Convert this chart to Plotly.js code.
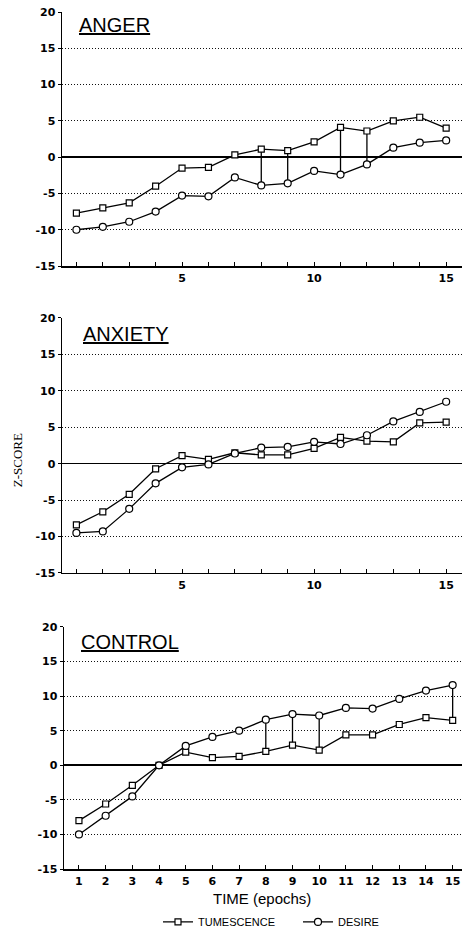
<!DOCTYPE html>
<html>
<head>
<meta charset="utf-8">
<script src="https://cdn.plot.ly/plotly-3.0.1.min.js"></script>
<style>html,body{margin:0;padding:0;background:#fff;}#chart{width:462px;height:931px;}</style>
</head>
<body>
<div id="chart"></div>
<script>
// ---- data ----
const epochs = [1,2,3,4,5,6,7,8,9,10,11,12,13,14,15];
const panelNames = ["ANGER", "ANXIETY", "CONTROL"];
const seriesNames = ["TUMESCENCE", "DESIRE"];

const angerTumescence   = [-7.7,-7.0,-6.3,-4.0,-1.5,-1.4, 0.3, 1.1, 0.9, 2.1, 4.1, 3.6, 5.0, 5.5, 4.0];
const angerDesire       = [-10.0,-9.6,-8.9,-7.5,-5.3,-5.4,-2.8,-3.9,-3.6,-1.9,-2.4,-1.0, 1.3, 2.0, 2.3];
const anxietyTumescence = [-8.4,-6.6,-4.2,-0.7, 1.1, 0.6, 1.5, 1.2, 1.2, 2.1, 3.6, 3.1, 3.0, 5.6, 5.7];
const anxietyDesire     = [-9.5,-9.3,-6.2,-2.7,-0.5,-0.1, 1.4, 2.2, 2.3, 3.0, 2.7, 3.9, 5.8, 7.1, 8.5];
const controlTumescence = [-8.0,-5.6,-2.9, 0.0, 1.9, 1.1, 1.3, 2.0, 2.9, 2.2, 4.4, 4.4, 5.9, 6.9, 6.5];
const controlDesire     = [-10.0,-7.3,-4.5, 0.0, 2.8, 4.1, 5.0, 6.6, 7.4, 7.2, 8.3, 8.2, 9.6,10.8,11.6];

// epochs where the two series are joined by a vertical line
const angerLinks   = [8, 9, 11, 12];
const anxietyLinks = [];
const controlLinks = [8, 9, 10, 15];

const yTicks = [-15,-10,-5,0,5,10,15,20];
const yTickLabels = ["-15","-10","-5","0","5","10","15","20"];
const xTickLabelsSparse = ["","","","","5","","","","","10","","","","","15"];
const xTickLabelsFull = ["1","2","3","4","5","6","7","8","9","10","11","12","13","14","15"];

// ---- build ----
const panels = [
  {tum: angerTumescence,   des: angerDesire,   links: angerLinks,   xa: "x",  ya: "y"},
  {tum: anxietyTumescence, des: anxietyDesire, links: anxietyLinks, xa: "x2", ya: "y2"},
  {tum: controlTumescence, des: controlDesire, links: controlLinks, xa: "x3", ya: "y3"}
];

const traces = [];
panels.forEach((p, i) => {
  const lx = [], ly = [];
  p.links.forEach(e => {
    const k = epochs.indexOf(e);
    lx.push(e, e, null);
    ly.push(p.tum[k], p.des[k], null);
  });
  if (lx.length) {
    traces.push({x: lx, y: ly, xaxis: p.xa, yaxis: p.ya, mode: "lines",
      line: {color: "#000", width: 1.3}, showlegend: false, hoverinfo: "skip"});
  }
  traces.push({x: epochs, y: p.tum, xaxis: p.xa, yaxis: p.ya, name: seriesNames[0],
    mode: "lines+markers", line: {color: "#000", width: 1.3},
    marker: {symbol: "square", size: 6, color: "#fff", line: {color: "#000", width: 1.2}},
    showlegend: i === 2, legendrank: 1});
  traces.push({x: epochs, y: p.des, xaxis: p.xa, yaxis: p.ya, name: seriesNames[1],
    mode: "lines+markers", line: {color: "#000", width: 1.3},
    marker: {symbol: "circle", size: 7, color: "#fff", line: {color: "#000", width: 1.2}},
    showlegend: i === 2, legendrank: 2});
});

const tickFont = {family: "DejaVu Sans", size: 11, color: "#000", weight: "bold"};
function xAxis(domain, range, anchor, labels) {
  return {domain: domain, range: range, anchor: anchor, tickmode: "array",
    tickvals: epochs, ticktext: labels, ticks: "inside", ticklen: 4, tickwidth: 1,
    tickcolor: "#000", showline: true, linecolor: "#000", linewidth: 1.5,
    showgrid: false, zeroline: false, tickfont: tickFont, ticklabelstandoff: 1,
    fixedrange: true};
}
function yAxis(domain, anchor) {
  return {domain: domain, range: [-15, 20], anchor: anchor, tickmode: "array",
    tickvals: yTicks, ticktext: yTickLabels, ticks: "outside", ticklen: 3, tickwidth: 1,
    tickcolor: "#000", showline: true, linecolor: "#000", linewidth: 1.5,
    showgrid: true, gridcolor: "#111", gridwidth: 1, griddash: "1px,2px",
    zeroline: true, zerolinecolor: "#000", zerolinewidth: 1.6,
    tickfont: tickFont, fixedrange: true};
}

const titleFont = {family: "Liberation Sans", size: 20, color: "#000"};
const layout = {
  width: 462, height: 931,
  margin: {l: 62, r: 0, t: 12, b: 62, autoexpand: false},
  paper_bgcolor: "#fff", plot_bgcolor: "#fff",
  xaxis:  xAxis([0, 1],     [0.455, 15.6], "y",  xTickLabelsSparse),
  yaxis:  yAxis([0.7036, 1], "x"),
  xaxis2: xAxis([0, 1],     [0.455, 15.6], "y2", xTickLabelsSparse),
  yaxis2: yAxis([0.3454, 0.643], "x2"),
  xaxis3: xAxis([0.005, 1], [0.44, 15.35], "y3", xTickLabelsFull),
  yaxis3: yAxis([0, 0.2824], "x3"),
  showlegend: true,
  legend: {orientation: "h", x: 0.24, xanchor: "left", y: -0.0618, yanchor: "middle",
    font: {family: "Liberation Sans", size: 11, color: "#000"}, itemwidth: 30,
    entrywidth: 95, entrywidthmode: "pixels",
    bgcolor: "rgba(0,0,0,0)", traceorder: "normal"},
  annotations: [
    {text: "<u>" + panelNames[0] + "</u>", xref: "x domain", yref: "y domain",
      x: 0.0375, y: 0.947, xanchor: "left", yanchor: "middle", showarrow: false, font: titleFont},
    {text: "<u>" + panelNames[1] + "</u>", xref: "x2 domain", yref: "y2 domain",
      x: 0.0475, y: 0.939, xanchor: "left", yanchor: "middle", showarrow: false, font: titleFont},
    {text: "<u>" + panelNames[2] + "</u>", xref: "x3 domain", yref: "y3 domain",
      x: 0.038, y: 0.938, xanchor: "left", yanchor: "middle", showarrow: false, font: titleFont},
    {text: "Z-SCORE", xref: "paper", yref: "paper", x: -0.1125, y: 0.477,
      xanchor: "center", yanchor: "middle", textangle: -90, showarrow: false,
      font: {family: "Liberation Serif", size: 13, color: "#000"}},
    {text: "TIME (epochs)", xref: "paper", yref: "paper", x: 0.5, y: -0.034,
      xanchor: "center", yanchor: "middle", showarrow: false,
      font: {family: "Liberation Sans", size: 15, color: "#000"}}
  ]
};

Plotly.newPlot("chart", traces, layout, {displayModeBar: false, staticPlot: true});
</script>
</body>
</html>
